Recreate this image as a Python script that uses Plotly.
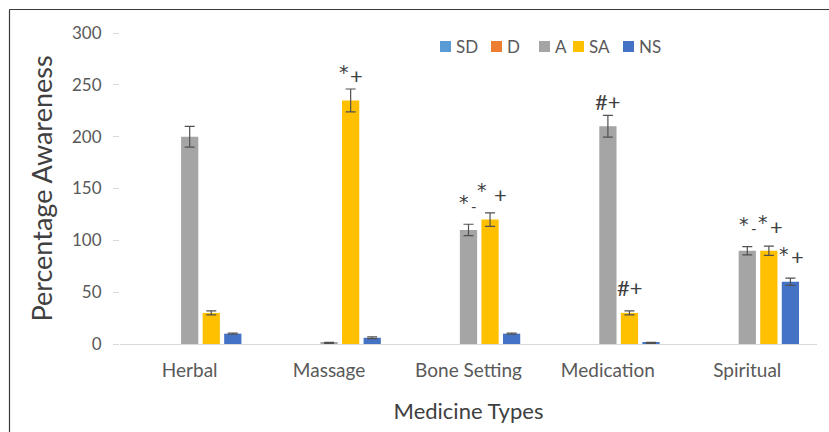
import plotly.graph_objects as go

# Medicine types on the x axis
categories = ["Herbal", "Massage", "Bone Setting", "Medication", "Spiritual"]

# Response levels (series) and their colours
series_names = ["SD", "D", "A", "SA", "NS"]
series_colors = ["#5B9BD5", "#ED7D31", "#A5A5A5", "#FFC000", "#4472C4"]

# Percentage awareness per series
sd_values = [0, 0, 0, 0, 0]
d_values = [0, 0, 0, 0, 0]
a_values = [200, 1, 110, 210, 90]
sa_values = [30, 235, 120, 30, 90]
ns_values = [10, 6, 10, 1, 60]

# Error bar half-lengths
sd_errors = [0, 0, 0, 0, 0]
d_errors = [0, 0, 0, 0, 0]
a_errors = [10, 0.5, 5.5, 10.5, 4]
sa_errors = [2, 11, 6.5, 2, 4.5]
ns_errors = [0.6, 0.8, 0.6, 0.5, 3.5]

# Significance glyphs: (category, series, glyph, x shift px, y shift px above error cap)
sig_glyphs = [
    ("Massage", "SA", "*", -7, 17),
    ("Massage", "SA", "+", 6, 13),
    ("Bone Setting", "A", "*", -5, 22),
    ("Bone Setting", "A", "-", 5, 18),
    ("Bone Setting", "A", "*", 13, 34),
    ("Bone Setting", "A", "+", 32, 30),
    ("Medication", "A", "#+", 0, 14),
    ("Medication", "SA", "#+", 1, 23),
    ("Spiritual", "A", "*", -3, 23),
    ("Spiritual", "A", "-", 7, 19),
    ("Spiritual", "A", "*", 16, 25),
    ("Spiritual", "A", "+", 29, 20),
    ("Spiritual", "NS", "*", -6, 24),
    ("Spiritual", "NS", "+", 7, 22),
]

values = [sd_values, d_values, a_values, sa_values, ns_values]
errors = [sd_errors, d_errors, a_errors, sa_errors, ns_errors]

FONT = "Lato"
TEXT_GREY = "#595959"
TITLE_GREY = "#404040"

# Plot-area geometry in pixels (used for the legend and the frame)
W, H = 829, 432
M_L, M_R, M_T, M_B = 120, 12, 33, 88
PW, PH = W - M_L - M_R, H - M_T - M_B


def px_to_paper(px, py):
    return (px - M_L) / PW, (H - M_B - py) / PH


fig = go.Figure()
for name, color, vals, errs in zip(series_names, series_colors, values, errors):
    show_err = any(e > 0 for e in errs)
    fig.add_trace(go.Bar(
        name=name,
        x=categories,
        y=vals,
        marker=dict(color=color, line=dict(width=0)),
        error_y=dict(type="data", array=errs, visible=show_err,
                     color="#505050", thickness=1.2, width=5),
        showlegend=False,
    ))

# Bar offsets inside a group (5 bars centred on each category)
n = len(series_names)
bargap = 0.227
slot = (1 - bargap) / n
annotations = []
for cat, ser, glyph, dx, dy in sig_glyphs:
    si = series_names.index(ser)
    ci = categories.index(cat)
    xpos = ci + (si - (n - 1) / 2) * slot
    if glyph == "*":
        gfont = dict(family="DejaVu Sans", size=19, color=TITLE_GREY)
    elif glyph == "-":
        gfont = dict(family=FONT, size=15, color=TITLE_GREY)
    else:
        gfont = dict(family=FONT, size=22, color=TITLE_GREY)
    annotations.append(dict(
        x=xpos, y=values[si][ci] + errors[si][ci], xref="x", yref="y",
        text=glyph, showarrow=False, xshift=dx, yshift=dy,
        xanchor="center", yanchor="middle", font=gfont,
    ))

# Legend: coloured squares with labels along the top of the plot
legend_x = [440, 491, 539, 573, 623]
legend_y = 46
shapes = []
for name, color, lx in zip(series_names, series_colors, legend_x):
    x0, y0 = px_to_paper(lx, legend_y + 6)
    x1, y1 = px_to_paper(lx + 11, legend_y - 5)
    shapes.append(dict(type="rect", xref="paper", yref="paper",
                       x0=x0, x1=x1, y0=y0, y1=y1,
                       fillcolor=color, line=dict(width=0)))
    tx, ty = px_to_paper(lx + 14, legend_y)
    annotations.append(dict(x=tx, y=ty, xref="paper", yref="paper", text=name,
                            showarrow=False, xanchor="left", yanchor="middle",
                            font=dict(family=FONT, size=17, color=TEXT_GREY)))

# Chart frame (top and left edges)
fx, fy = px_to_paper(9.5, 9.5)
_, fb = px_to_paper(0, H + 5)
fr, _ = px_to_paper(W + 5, 0)
shapes.append(dict(type="line", xref="paper", yref="paper", x0=fx, x1=fr, y0=fy, y1=fy,
                   line=dict(color="#3a3a3a", width=1.2)))
shapes.append(dict(type="line", xref="paper", yref="paper", x0=fx, x1=fx, y0=fy, y1=fb,
                   line=dict(color="#3a3a3a", width=1.2)))

fig.update_layout(
    width=W, height=H,
    margin=dict(l=M_L, r=M_R, t=M_T, b=M_B),
    paper_bgcolor="white", plot_bgcolor="white",
    barmode="group", bargap=bargap, bargroupgap=0.2,
    font=dict(family=FONT, color=TEXT_GREY),
    showlegend=False,
    annotations=annotations,
    shapes=shapes,
)

fig.update_xaxes(
    type="category", range=[-0.5, 4.5],
    showline=True, linecolor="#D9D9D9", linewidth=1.2,
    showgrid=False, ticks="", zeroline=False,
    tickfont=dict(size=19, color=TEXT_GREY), ticklabelstandoff=9,
    title=dict(text="Medicine Types", font=dict(size=22, color=TITLE_GREY), standoff=23),
)
fig.update_yaxes(
    range=[0, 300], dtick=50,
    showline=False, showgrid=False, zeroline=False,
    ticks="outside", ticklen=6, tickcolor="#D9D9D9", tickwidth=1,
    tickfont=dict(size=17, color=TEXT_GREY), ticklabelstandoff=8,
    title=dict(text="Percentage Awareness", font=dict(size=27, color=TITLE_GREY), standoff=11),
)

fig.write_html("out.html")
